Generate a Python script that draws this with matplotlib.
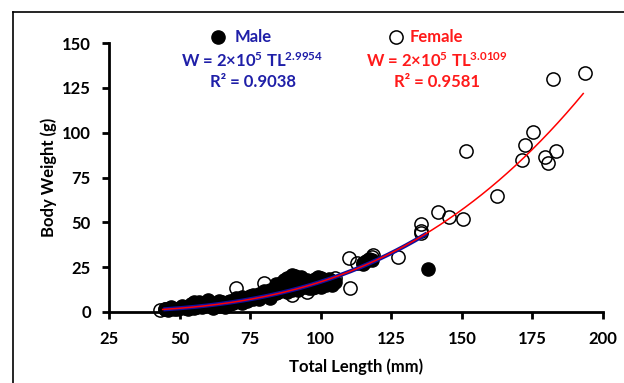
import matplotlib
matplotlib.use("Agg")
import matplotlib.pyplot as plt
from matplotlib.lines import Line2D
import numpy as np

# ---- data ----
male_tl = [45, 46, 47, 48, 49, 50, 52, 53, 54, 55, 56, 57, 58, 60, 61, 62, 63, 64, 65, 66,
           67, 68, 69, 70, 71, 72, 73, 74, 75, 76, 77, 78, 79, 80, 81, 82, 83, 84, 85, 85,
           86, 87, 87, 88, 88, 89, 89, 90, 90, 91, 91, 92, 93, 93, 94, 95, 95, 96, 97, 98,
           99, 100, 100, 101, 102, 103, 104, 105, 115, 116, 117, 118, 138,
           47, 51, 53, 55, 57, 59, 62, 64, 66, 68, 70, 72, 74, 76, 78, 80, 82, 84, 86, 88,
           90, 92, 94, 96, 98, 100, 102, 104, 84, 86, 88, 91, 93, 97, 99, 101, 103]
male_w = [1.5, 1.2, 2.0, 1.6, 1.8, 2.3, 2.0, 2.6, 4.5, 5.5, 3.0, 4.2, 2.8, 6.5, 3.8, 4.6, 5.0, 3.6, 5.5, 4.2,
          5.8, 6.4, 5.2, 6.0, 7.5, 8.5, 6.8, 8.0, 9.2, 7.4, 8.8, 10.0, 9.0, 11.5, 10.2, 12.0, 11.0, 13.0, 14.5, 12.0,
          16.0, 13.5, 18.0, 15.0, 19.0, 17.0, 13.0, 20.5, 15.5, 18.5, 14.0, 16.5, 15.0, 17.5, 16.0, 18.0, 15.0, 17.0, 16.0, 18.5,
          17.0, 16.5, 19.0, 15.5, 17.5, 16.0, 15.0, 16.5, 27.0, 28.5, 29.5, 29.0, 24.0,
          3.0, 3.5, 1.5, 2.5, 5.8, 4.5, 2.5, 6.0, 3.0, 4.5, 7.8, 5.0, 6.0, 9.5, 7.0, 9.5, 8.0, 10.5, 12.5, 11.0,
          12.0, 12.5, 14.0, 13.5, 14.0, 14.0, 15.0, 17.5, 15.5, 13.0, 17.5, 20.0, 19.5, 13.5, 19.5, 18.0, 18.5]

female_tl = [43, 45, 47, 50, 55, 60, 65, 70, 72, 75, 78, 80, 82, 85, 88, 90, 92, 95, 97, 100,
             102, 105, 110, 110.5, 113, 115, 118, 118.5, 127.4, 135.4, 135.4, 135.7, 141.4, 145.4, 150.4,
             151.4, 162.4, 171.3, 172.4, 175.2, 179.4, 180.5, 182.4, 183.5, 193.5]
female_w = [1.0, 1.5, 2.2, 2.5, 3.5, 4.0, 5.0, 13.2, 6.5, 8.0, 9.0, 16.0, 10.0, 11.0, 12.0, 9.5, 13.0, 11.3, 14.0, 15.0,
            17.0, 18.8, 30.0, 13.2, 27.5, 27.2, 30.5, 31.8, 30.9, 49.1, 45.4, 43.9, 56.0, 52.8, 52.0,
            90.0, 64.9, 84.8, 93.2, 100.1, 86.7, 83.0, 130.0, 90.0, 133.2]

# power-law trendlines W = a * TL^b
male_a, male_b = 1.72e-5, 2.9954
female_a, female_b = 1.60e-5, 3.0109
male_range = (45, 137)
female_range = (44, 193)

x_ticks = [25, 50, 75, 100, 125, 150, 175, 200]
y_ticks = [0, 25, 50, 75, 100, 125, 150]

# ---- style ----
FONT = "Lato"
plt.rcParams['font.family'] = [FONT, 'DejaVu Sans']
plt.rcParams['font.weight'] = 'bold'
plt.rcParams['mathtext.fontset'] = 'custom'
plt.rcParams['mathtext.rm'] = 'Lato:bold'
plt.rcParams['mathtext.it'] = 'Lato:bold'
plt.rcParams['mathtext.bf'] = 'Lato:bold'

W, H = 624, 383
fig = plt.figure(figsize=(W / 100, H / 100), dpi=100)


def px(x, y):
    return x / W, 1 - y / H


FS = 12
left, right, top, bottom = 109, 603, 43, 312
ax = fig.add_axes([left / W, 1 - bottom / H, (right - left) / W, (bottom - top) / H])
ax.set_xlim(25, 200)
ax.set_ylim(0, 150)
ax.set_xticks(x_ticks)
ax.set_yticks(y_ticks)
for s in ['top', 'right']:
    ax.spines[s].set_visible(False)
for s in ['left', 'bottom']:
    ax.spines[s].set_linewidth(2.0)
ax.tick_params(axis='both', direction='out', length=5, width=2.0, labelsize=FS)
ax.tick_params(axis='x', pad=9)
ax.tick_params(axis='y', pad=8)
for lab in ax.get_xticklabels() + ax.get_yticklabels():
    lab.set_fontweight('bold')

ax.set_xlabel("Total Length (mm)", fontsize=FS, fontweight='bold', labelpad=8)
ax.set_ylabel("Body Weight (g)", fontsize=FS, fontweight='bold', labelpad=4)

ms = 9.5
ax.plot(male_tl, male_w, 'o', ms=ms, color='black', mec='black', zorder=3, clip_on=False)
ax.plot(female_tl, female_w, 'o', ms=ms, mfc='none', mec='black', mew=1.1, zorder=4, clip_on=False)

tm = np.linspace(male_range[0], male_range[1], 200)
tf = np.linspace(female_range[0], female_range[1], 300)
ax.plot(tm, male_a * tm ** male_b, color='#1010A0', lw=3.0, zorder=5)
ax.plot(tf, female_a * tf ** female_b, color='#FF0000', lw=1.1, zorder=6)

# ---- legend / equations ----
blue_txt = '#1F1FA8'
red_txt = '#FF1A1A'
fig.add_artist(Line2D([px(218, 37)[0]], [px(218, 37)[1]], marker='o', ms=ms, color='black',
                      transform=fig.transFigure))
fig.text(*px(235, 37), "Male", color=blue_txt, fontsize=FS, fontweight='bold', va='center', ha='left')
fig.text(*px(252, 61), r"W = 2×10$^{5}$ TL$^{2.9954}$", color=blue_txt, fontsize=FS,
         fontweight='bold', va='center', ha='center')
fig.text(*px(253, 82), "R² = 0.9038", color=blue_txt, fontsize=FS, fontweight='bold', va='center', ha='center')

fig.add_artist(Line2D([px(396, 37)[0]], [px(396, 37)[1]], marker='o', ms=ms, mfc='none', mec='black',
                      mew=1.1, transform=fig.transFigure))
fig.text(*px(410, 37), "Female", color=red_txt, fontsize=FS, fontweight='bold', va='center', ha='left')
fig.text(*px(437, 61), r"W = 2×10$^{5}$ TL$^{3.0109}$", color=red_txt, fontsize=FS,
         fontweight='bold', va='center', ha='center')
fig.text(*px(437, 82), "R² = 0.9581", color=red_txt, fontsize=FS, fontweight='bold', va='center', ha='center')

# ---- outer frame (partially cropped box) ----
fig.add_artist(Line2D([px(13, 12)[0], px(13, 383)[0]], [px(13, 12)[1], px(13, 383)[1]],
                      color='black', lw=1.2, transform=fig.transFigure))
fig.add_artist(Line2D([px(13, 12)[0], px(624, 12)[0]], [px(13, 12)[1], px(624, 12)[1]],
                      color='black', lw=1.2, transform=fig.transFigure))

fig.savefig("out.png", dpi=100)
